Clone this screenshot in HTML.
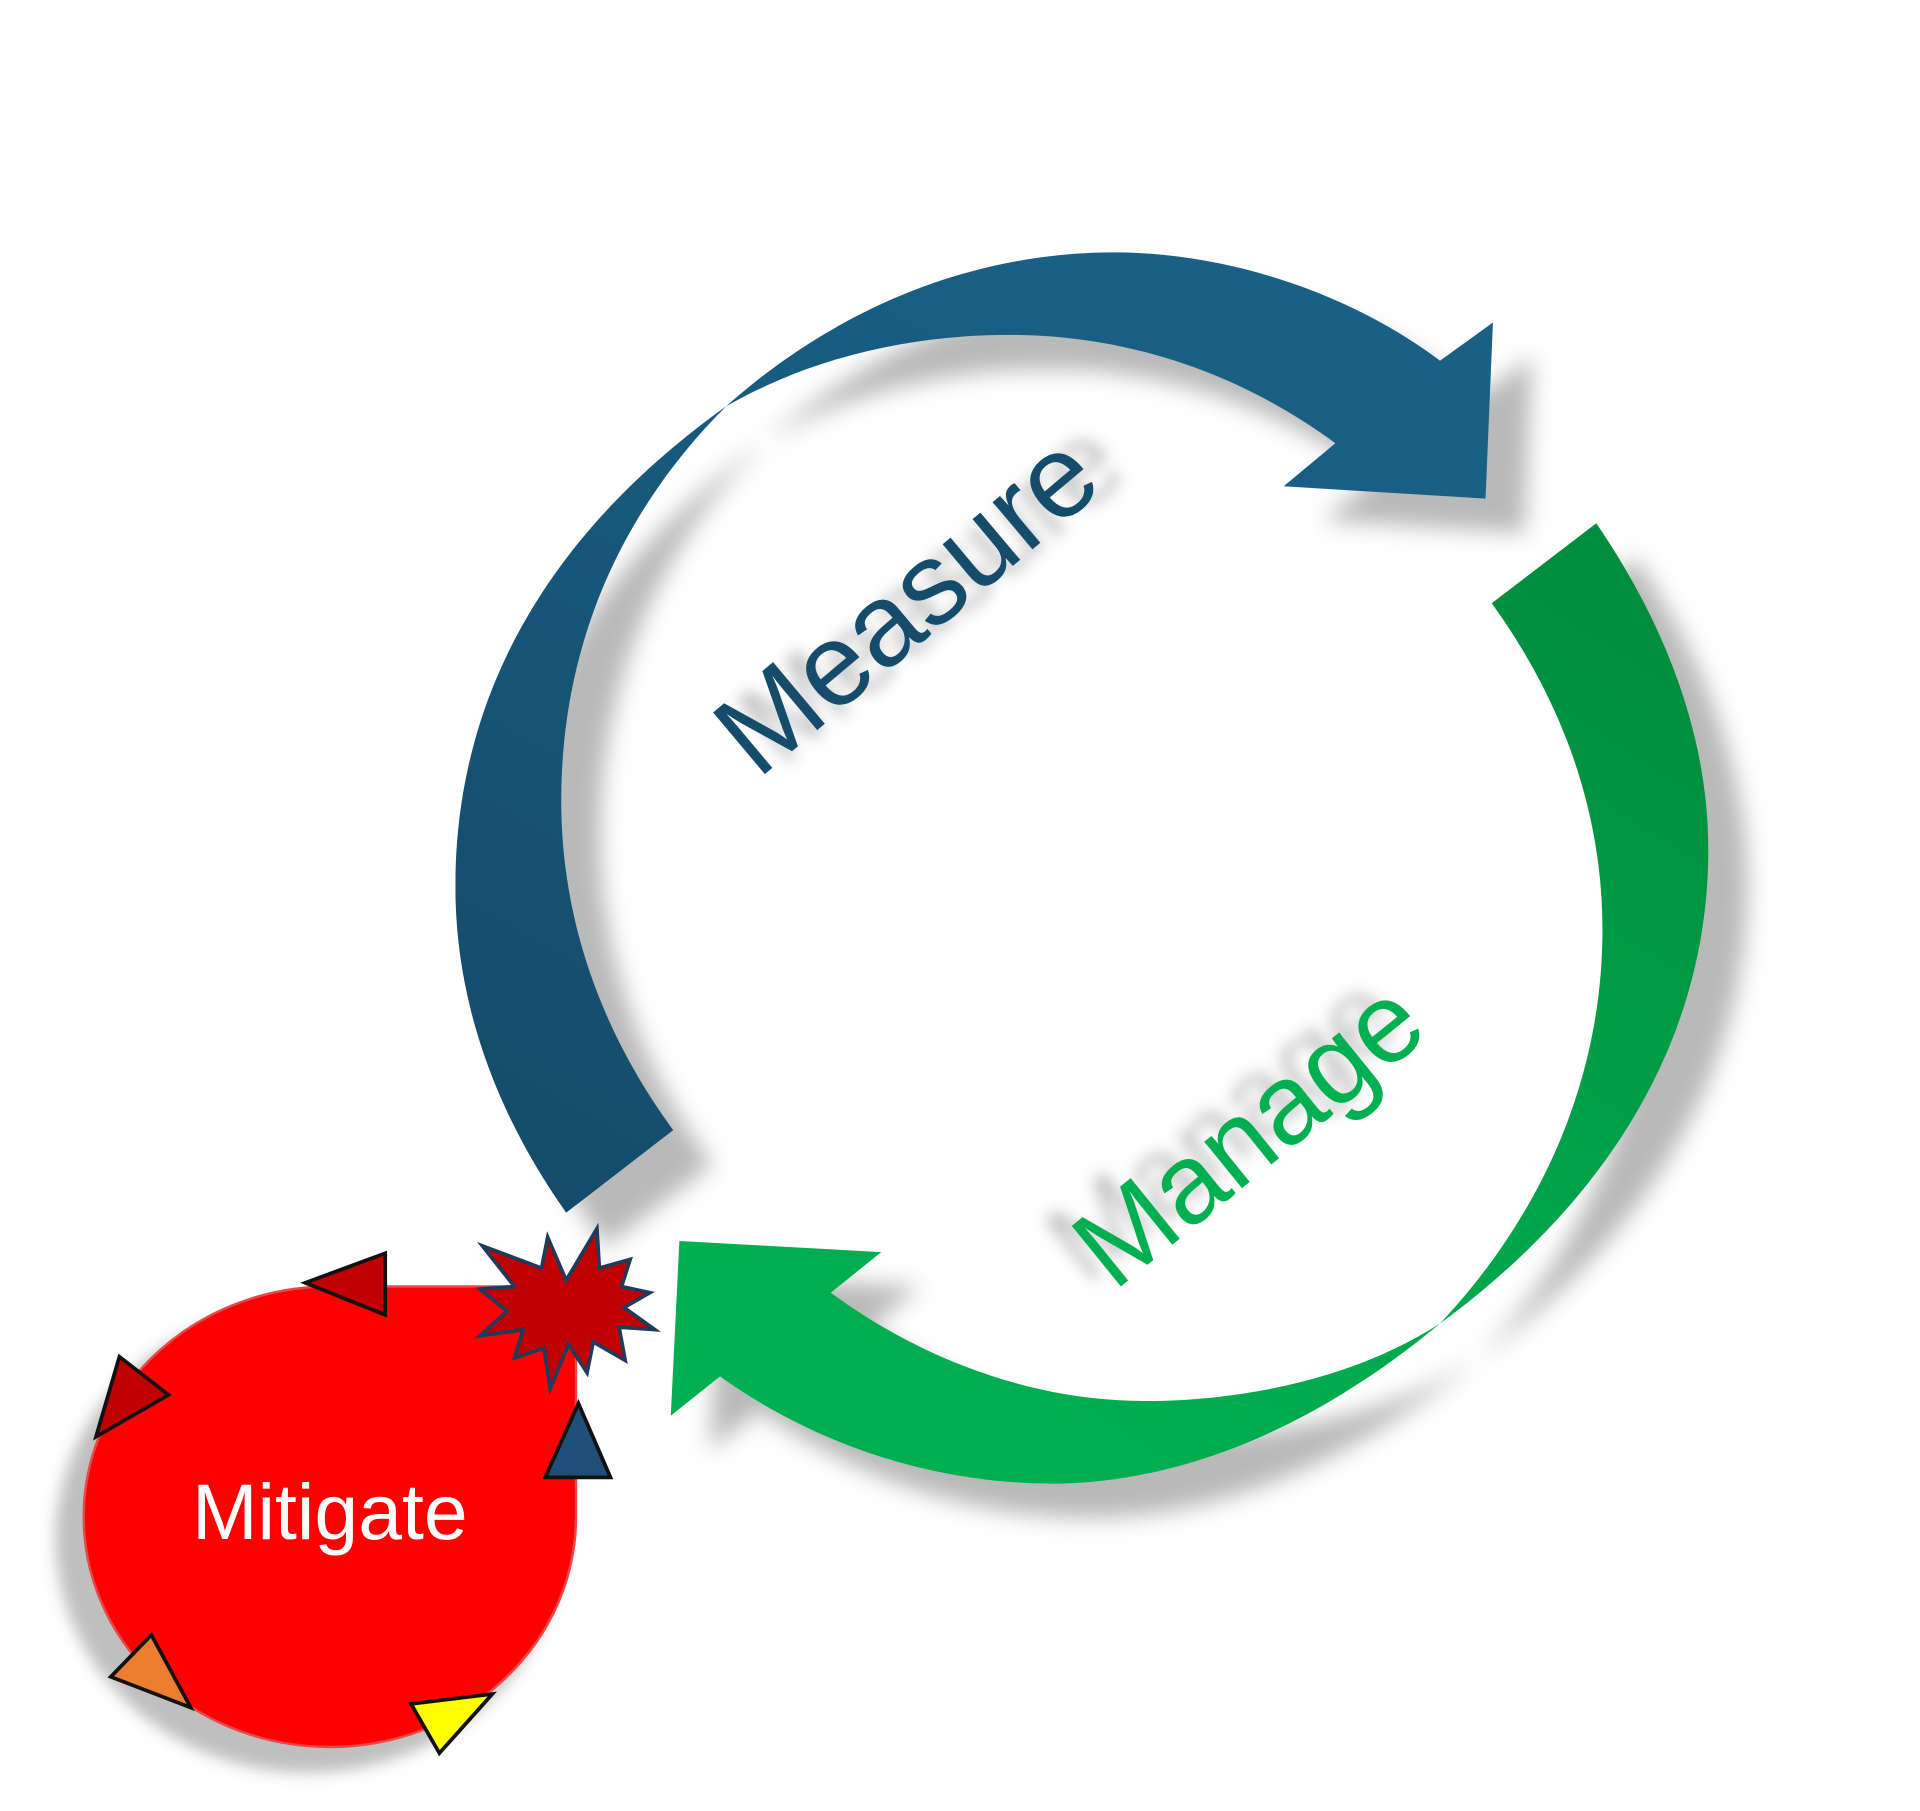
<!DOCTYPE html>
<html><head><meta charset="utf-8"><style>
html,body{margin:0;padding:0;background:#fff;width:1920px;height:1811px;overflow:hidden}
svg{display:block}
text{font-family:"Liberation Sans",sans-serif}
</style></head><body>
<svg width="1920" height="1811" viewBox="0 0 1560 1471" preserveAspectRatio="none" xmlns="http://www.w3.org/2000/svg">
<defs>
<linearGradient id="gb" x1="0" y1="1" x2="0.6" y2="0">
<stop offset="0" stop-color="#144a69"/><stop offset="1" stop-color="#196085"/></linearGradient>
<linearGradient id="gg" x1="1" y1="0" x2="0.3" y2="1">
<stop offset="0" stop-color="#00893c"/><stop offset="0.6" stop-color="#00a64b"/><stop offset="1" stop-color="#00b050"/></linearGradient>
<filter id="sh" x="-20%" y="-20%" width="150%" height="150%"><feGaussianBlur stdDeviation="9"/></filter>
<filter id="sh2" x="-20%" y="-20%" width="150%" height="150%"><feGaussianBlur stdDeviation="6"/></filter>
<path id="pb" d="M460 985 C400 900,370 810,370 720 C370 560,450 430,590 330 C680 250,790 205,905 205 C1000 205,1100 240,1170 293 L1213 262 L1207 405 L1043 395 L1085 360 C1010 305,920 272,820 272 C740 272,660 290,590 330 C500 420,456 530,456 650 C456 750,490 840,547 918 Z"/>
<path id="pg" d="M1297 425 C1355 510,1388 600,1388 690 C1388 850,1300 980,1170 1075 C1080 1150,970 1205,855 1205 C760 1205,665 1175,585 1118 L545 1150 L552 1008 L716 1017 L675 1050 C750 1105,840 1138,930 1138 C1010 1138,1100 1120,1170 1075 C1250 990,1302 880,1302 755 C1302 660,1270 570,1212 490 Z"/>
</defs>
<g filter="url(#sh)" fill="#b8b9b8" transform="translate(32,28)">
<use href="#pb"/><use href="#pg"/>
</g>
<g filter="url(#sh2)" fill="#bfbfbf">
<ellipse cx="250" cy="1250" rx="205" ry="190"/>
<text x="777" y="505" font-size="95" text-anchor="middle" transform="rotate(-40 777 505)">Measure</text>
<text x="1012" y="940" font-size="92" text-anchor="middle" transform="rotate(-39 1012 940)">Manage</text>
</g>
<use href="#pb" fill="url(#gb)"/>
<use href="#pg" fill="url(#gg)"/>
<text x="757" y="515" font-size="95" fill="#154c6b" text-anchor="middle" transform="rotate(-40 757 515)">Measure</text>
<text x="1034" y="945" font-size="92" fill="#00b050" text-anchor="middle" transform="rotate(-39 1034 945)">Manage</text>
<path fill="#ff0000" stroke="#e84848" stroke-width="2" d="M270 1045 L468 1045 L468 1230 A200 187 0 1 1 270 1045 Z"/>
<text x="268" y="1250" font-size="64" fill="#fff" text-anchor="middle">Mitigate</text>
<g stroke="#111" stroke-width="3" stroke-linejoin="miter">
<polygon points="248,1042 313,1018 313,1068" fill="#c00000"/>
<polygon points="97,1102 137,1133 78,1167" fill="#c00000"/>
<polygon points="123,1328 155,1387 90,1362" fill="#ed7d31"/>
<polygon points="334,1384 400,1376 357,1424" fill="#ffff00"/>
<polygon points="470,1140 496,1200 443,1200" fill="#1f4e79"/>
</g>
<polygon fill="#c00000" stroke="#1f3a5a" stroke-width="3" points="460,1040 485,998 487,1030 512,1023 505,1045 528,1050 507,1062 532,1080 503,1078 508,1105 482,1090 477,1115 462,1092 447,1128 442,1095 418,1103 425,1080 390,1085 412,1065 390,1047 418,1045 392,1012 440,1030 445,1005"/>
</svg>
</body></html>
